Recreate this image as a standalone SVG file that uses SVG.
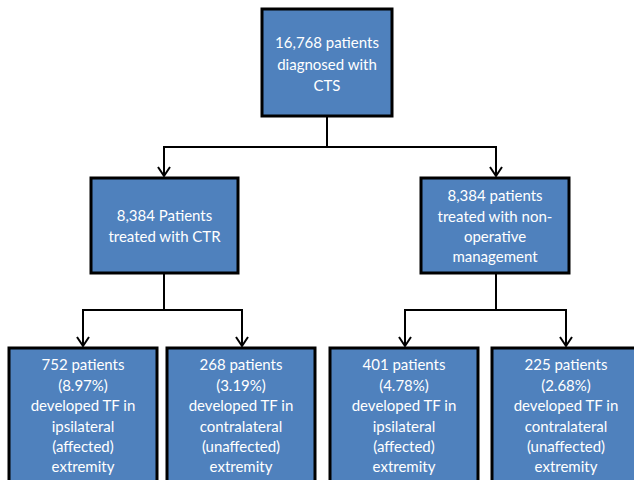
<svg xmlns="http://www.w3.org/2000/svg" width="634" height="480" viewBox="0 0 634 480">
<style>
.box{fill:#4F81BD;stroke:#000;stroke-width:3}
.t{font-family:Lato,"Liberation Sans",sans-serif;font-size:15px;fill:#fff;text-anchor:middle}
.c{fill:none;stroke:#000;stroke-width:2}
</style>
<defs>
<marker id="arr" markerWidth="14" markerHeight="14" viewBox="0 0 14 14" refX="12" refY="7" orient="auto" markerUnits="userSpaceOnUse">
<polyline points="3,1 12,7 3,13" fill="none" stroke="#000" stroke-width="2"/>
</marker>
</defs>
<rect width="634" height="480" fill="#fff"/>
<g id="connectors">
<polyline class="c" points="327,117 327,147"/>
<polyline class="c" points="327,147 164,147 164,176" marker-end="url(#arr)"/>
<polyline class="c" points="327,147 496,147 496,176" marker-end="url(#arr)"/>
<polyline class="c" points="164,274 164,310"/>
<polyline class="c" points="164,310 83,310 83,346" marker-end="url(#arr)"/>
<polyline class="c" points="164,310 242,310 242,346" marker-end="url(#arr)"/>
<polyline class="c" points="496,274 496,310"/>
<polyline class="c" points="496,310 405,310 405,346" marker-end="url(#arr)"/>
<polyline class="c" points="496,310 566,310 566,346" marker-end="url(#arr)"/>
</g>
<g id="n-root">
<rect class="box" x="262" y="9" width="130" height="107"/>
<text class="t" x="327" y="48">16,768 patients</text>
<text class="t" x="327" y="70">diagnosed with</text>
<text class="t" x="327" y="91">CTS</text>
</g>
<g id="n-ctr">
<rect class="box" x="91" y="178" width="147" height="95"/>
<text class="t" x="164.5" y="221">8,384 Patients</text>
<text class="t" x="164.5" y="242">treated with CTR</text>
</g>
<g id="n-nonop">
<rect class="box" x="421" y="178" width="148" height="95"/>
<text class="t" x="495" y="201">8,384 patients</text>
<text class="t" x="495" y="222">treated with non-</text>
<text class="t" x="495" y="242">operative</text>
<text class="t" x="495" y="262">management</text>
</g>
<g id="n-ctr-ipsi">
<rect class="box" x="9" y="348" width="148" height="140"/>
<text class="t" x="83" y="370">752 patients</text>
<text class="t" x="83" y="391">(8.97%)</text>
<text class="t" x="83" y="411">developed TF in</text>
<text class="t" x="83" y="432">ipsilateral</text>
<text class="t" x="83" y="452">(affected)</text>
<text class="t" x="83" y="472">extremity</text>
</g>
<g id="n-ctr-contra">
<rect class="box" x="167" y="348" width="148" height="140"/>
<text class="t" x="241" y="370">268 patients</text>
<text class="t" x="241" y="391">(3.19%)</text>
<text class="t" x="241" y="411">developed TF in</text>
<text class="t" x="241" y="432">contralateral</text>
<text class="t" x="241" y="452">(unaffected)</text>
<text class="t" x="241" y="472">extremity</text>
</g>
<g id="n-nonop-ipsi">
<rect class="box" x="330" y="348" width="148" height="140"/>
<text class="t" x="404" y="370">401 patients</text>
<text class="t" x="404" y="391">(4.78%)</text>
<text class="t" x="404" y="411">developed TF in</text>
<text class="t" x="404" y="432">ipsilateral</text>
<text class="t" x="404" y="452">(affected)</text>
<text class="t" x="404" y="472">extremity</text>
</g>
<g id="n-nonop-contra">
<rect class="box" x="492" y="348" width="150" height="140"/>
<text class="t" x="566" y="370">225 patients</text>
<text class="t" x="566" y="391">(2.68%)</text>
<text class="t" x="566" y="411">developed TF in</text>
<text class="t" x="566" y="432">contralateral</text>
<text class="t" x="566" y="452">(unaffected)</text>
<text class="t" x="566" y="472">extremity</text>
</g>
</svg>
